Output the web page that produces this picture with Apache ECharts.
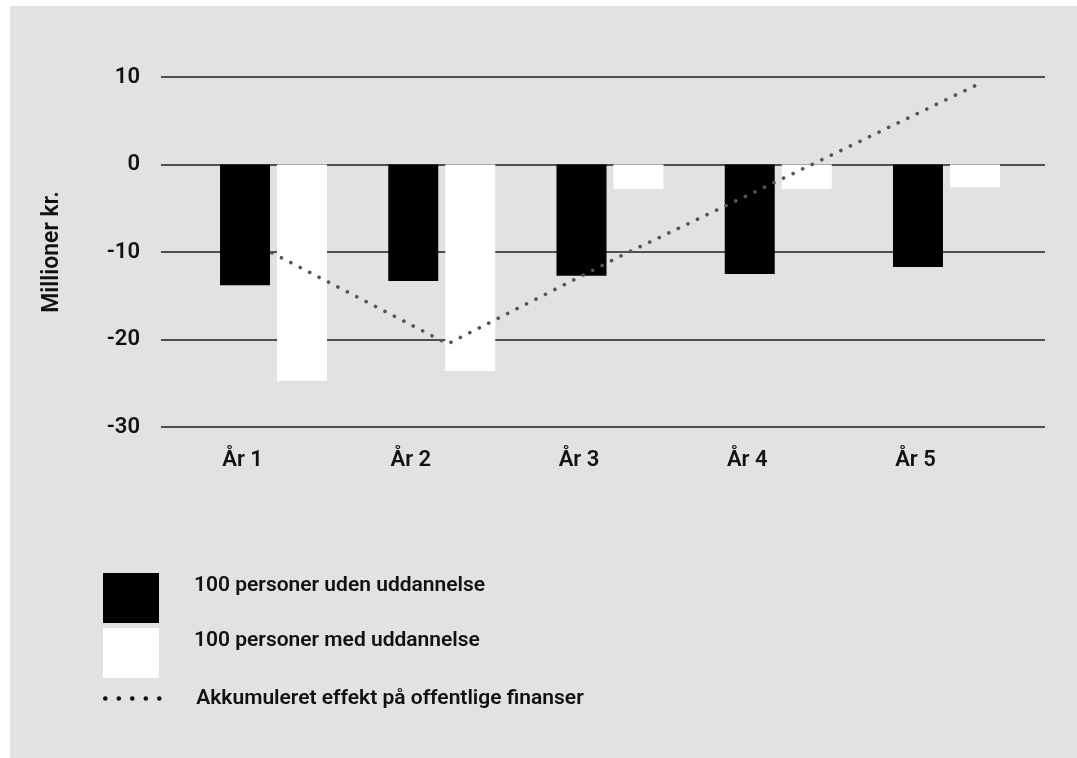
<!DOCTYPE html>
<html>
<head>
<meta charset="utf-8">
<script src="https://cdn.jsdelivr.net/npm/echarts@6/dist/echarts.min.js"></script>
<style>
  html, body { margin: 0; padding: 0; background: #fff; }
  #wrap { position: relative; width: 1077px; height: 758px; }
  #panel { position: absolute; left: 10px; top: 6px; right: 0; bottom: 0; background: #e2e2e2; }
  #chart { position: absolute; left: 0; top: 0; width: 1077px; height: 758px; }
</style>
</head>
<body>
<div id="wrap">
  <div id="panel"></div>
  <div id="chart"></div>
</div>
<script>
// chart data
const years = ["År 1", "År 2", "År 3", "År 4", "År 5"];
const utenUdd = [-13.8, -13.3, -12.7, -12.5, -11.7];
const medUdd = [-24.7, -23.6, -2.8, -2.8, -2.6];
const akkumuleret = [-10.1, -20.5, -10.3, -0.7, 9.0];
const yTicks = [-30, -20, -10, 0, 10];

const seriesNames = [
  "100 personer uden uddannelse",
  "100 personer med uddannelse",
  "Akkumuleret effekt på offentlige finanser",
];

document.addEventListener("DOMContentLoaded", function () {
  let chartDom = document.getElementById("chart");
  let myChart = echarts.init(chartDom);

  const font = "Roboto, Inter, sans-serif";
  const fw = 600;
  const yMin = yTicks[0];
  const yMax = yTicks[yTicks.length - 1];

  // shared vertical extent for all three grids
  const top = 77;
  const bottom = 758 - 427;

  const legendText = {
    color: "#111",
    fontSize: 21,
    fontWeight: fw,
    fontFamily: font,
  };

  let option = {
    backgroundColor: "transparent",
    animation: false,
    textStyle: { fontFamily: font },
    grid: [
      // gridlines + y labels
      { left: 161, right: 1077 - 1045, top: top, bottom: bottom },
      // bars
      { left: 189.4, right: 1077 - 1030.6, top: top, bottom: bottom },
      // accumulated line
      { left: 272, right: 1077 - 975, top: top, bottom: bottom },
    ],
    xAxis: [
      { gridIndex: 0, type: "category", data: years, show: false },
      {
        gridIndex: 1,
        type: "category",
        data: years,
        axisLine: { show: false },
        axisTick: { show: false },
        axisLabel: {
          margin: 22,
          color: "#111",
          fontSize: 22,
          fontWeight: fw,
          fontFamily: font,
          padding: [0, 62, 0, 0],
        },
      },
      { gridIndex: 2, type: "category", data: years, boundaryGap: false, show: false },
    ],
    yAxis: [
      {
        gridIndex: 0,
        type: "value",
        min: yMin,
        max: yMax,
        interval: 10,
        name: "Millioner kr.",
        nameLocation: "middle",
        nameGap: 97,
        nameRotate: 90,
        nameTextStyle: { color: "#111", fontSize: 23, fontWeight: fw, fontFamily: font },
        axisLine: { show: false },
        axisTick: { show: false },
        axisLabel: { margin: 21, color: "#111", fontSize: 22, fontWeight: fw, fontFamily: font },
        splitLine: { lineStyle: { color: "#1e1e1e", width: 1.5 } },
      },
      { gridIndex: 1, type: "value", min: yMin, max: yMax, show: false, splitLine: { show: false } },
      { gridIndex: 2, type: "value", min: yMin, max: yMax, show: false, splitLine: { show: false } },
    ],
    legend: [
      {
        orient: "vertical",
        left: 103,
        top: 573,
        padding: 0,
        itemWidth: 56,
        itemHeight: 50,
        itemGap: 5,
        icon: "rect",
        data: [seriesNames[0], seriesNames[1]],
        formatter: function (name) {
          return name + "\n ";
        },
        textStyle: Object.assign({ lineHeight: 25, padding: [0, 0, 0, 30] }, legendText),
      },
      {
        orient: "vertical",
        left: 103,
        top: 688,
        padding: 0,
        itemWidth: 56,
        itemHeight: 14,
        data: [seriesNames[2]],
        itemStyle: { opacity: 0 },
        lineStyle: { type: [0.1, 13.4], width: 4.5, cap: "round", color: "#111" },
        textStyle: Object.assign({ padding: [0, 0, 5, 30] }, legendText),
      },
    ],
    series: [
      {
        name: seriesNames[0],
        type: "bar",
        xAxisIndex: 1,
        yAxisIndex: 1,
        data: utenUdd,
        barWidth: 50,
        barGap: "14%",
        itemStyle: { color: "#000" },
      },
      {
        name: seriesNames[1],
        type: "bar",
        xAxisIndex: 1,
        yAxisIndex: 1,
        data: medUdd,
        barWidth: 50,
        itemStyle: { color: "#fff" },
      },
      {
        name: seriesNames[2],
        type: "line",
        xAxisIndex: 2,
        yAxisIndex: 2,
        data: akkumuleret,
        symbol: "none",
        z: 5,
        lineStyle: { color: "#555", width: 3.6, type: [0.1, 10.5], cap: "round" },
      },
    ],
  };

  myChart.setOption(option);

  window.addEventListener("resize", function () {
    myChart.resize();
  });
});
</script>
</body>
</html>
